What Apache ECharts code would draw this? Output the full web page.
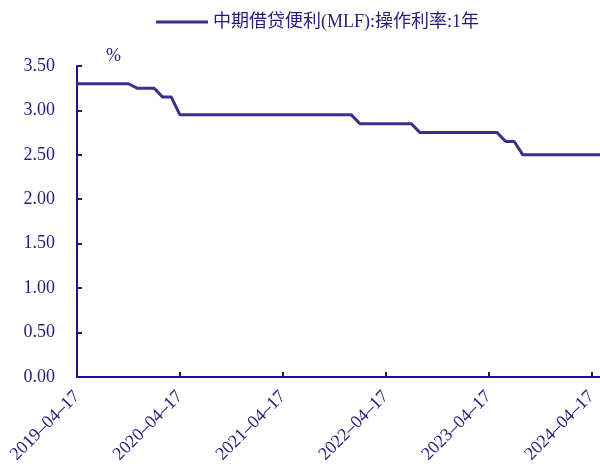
<!DOCTYPE html>
<html>
<head>
<meta charset="utf-8">
<script src="https://cdn.jsdelivr.net/npm/echarts@6/dist/echarts.min.js"></script>
<style>
  html, body { margin: 0; padding: 0; background: #fff; }
  #chart { width: 600px; height: 466px; }
</style>
</head>
<body>
<div id="chart"></div>
<script>
// Monthly observation dates
const dates = [
  '2019-04-17','2019-05-17','2019-06-17','2019-07-17','2019-08-17','2019-09-17','2019-10-17',
  '2019-11-17','2019-12-17','2020-01-17','2020-02-17','2020-03-17','2020-04-17','2020-05-17',
  '2020-06-17','2020-07-17','2020-08-17','2020-09-17','2020-10-17','2020-11-17','2020-12-17',
  '2021-01-17','2021-02-17','2021-03-17','2021-04-17','2021-05-17','2021-06-17','2021-07-17',
  '2021-08-17','2021-09-17','2021-10-17','2021-11-17','2021-12-17','2022-01-17','2022-02-17',
  '2022-03-17','2022-04-17','2022-05-17','2022-06-17','2022-07-17','2022-08-17','2022-09-17',
  '2022-10-17','2022-11-17','2022-12-17','2023-01-17','2023-02-17','2023-03-17','2023-04-17',
  '2023-05-17','2023-06-17','2023-07-17','2023-08-17','2023-09-17','2023-10-17','2023-11-17',
  '2023-12-17','2024-01-17','2024-02-17','2024-03-17','2024-04-17','2024-05-17'
];

// MLF one-year operation rate, %
const mlfRate = [
  3.30, 3.30, 3.30, 3.30, 3.30, 3.30, 3.30,
  3.25, 3.25, 3.25, 3.15, 3.15, 2.95, 2.95,
  2.95, 2.95, 2.95, 2.95, 2.95, 2.95, 2.95,
  2.95, 2.95, 2.95, 2.95, 2.95, 2.95, 2.95,
  2.95, 2.95, 2.95, 2.95, 2.95, 2.85, 2.85,
  2.85, 2.85, 2.85, 2.85, 2.85, 2.75, 2.75,
  2.75, 2.75, 2.75, 2.75, 2.75, 2.75, 2.75,
  2.75, 2.65, 2.65, 2.50, 2.50, 2.50, 2.50,
  2.50, 2.50, 2.50, 2.50, 2.50, 2.50
];

const seriesName = '中期借贷便利(MLF):操作利率:1年';
const yTicks = { min: 0, max: 3.5, interval: 0.5 };

const textColor = '#221C7C';
const axisColor = '#1E1680';
const lineColor = '#3A2F8C';
const fontFamily = "'Times New Roman', 'Liberation Serif', 'Noto Sans CJK SC', serif";

const chart = echarts.init(document.getElementById('chart'), null, { renderer: 'canvas' });

chart.setOption({
  backgroundColor: '#ffffff',
  animation: false,
  textStyle: { fontFamily: fontFamily, color: textColor },
  legend: {
    left: 151,
    top: 8,
    itemWidth: 52,
    itemHeight: 14,
    textStyle: { fontSize: 18, color: textColor, fontFamily: fontFamily },
    data: [{ name: seriesName, icon: 'path://M0,6 L52,6 L52,9 L0,9 Z' }]
  },
  grid: { left: 77, right: -2, top: 66, bottom: 88 },
  xAxis: {
    type: 'category',
    data: dates,
    boundaryGap: false,
    axisLine: { lineStyle: { color: axisColor, width: 2 } },
    axisTick: { inside: true, length: 5, interval: 11, lineStyle: { color: axisColor, width: 2 } },
    axisLabel: {
      interval: 11,
      rotate: 45,
      margin: 17,
      fontSize: 18,
      color: textColor,
      fontFamily: fontFamily,
      formatter: v => v.replace(/-/g, '\u2013')
    },
    splitLine: { show: false }
  },
  yAxis: {
    type: 'value',
    min: yTicks.min,
    max: yTicks.max,
    interval: yTicks.interval,
    name: '%',
    nameLocation: 'end',
    nameGap: 1,
    nameTextStyle: { fontSize: 18, color: textColor, fontFamily: fontFamily, align: 'left', padding: [0, 0, 0, 29] },
    axisLine: { show: true, lineStyle: { color: axisColor, width: 2 } },
    axisTick: { show: true, inside: true, length: 5, lineStyle: { color: axisColor, width: 2 } },
    axisLabel: {
      margin: 22,
      fontSize: 18,
      color: textColor,
      fontFamily: fontFamily,
      formatter: v => v.toFixed(2)
    },
    splitLine: { show: false }
  },
  series: [{
    name: seriesName,
    type: 'line',
    data: mlfRate,
    showSymbol: false,
    symbol: 'none',
    lineStyle: { color: lineColor, width: 3 },
    itemStyle: { color: lineColor }
  }]
});
</script>
</body>
</html>
